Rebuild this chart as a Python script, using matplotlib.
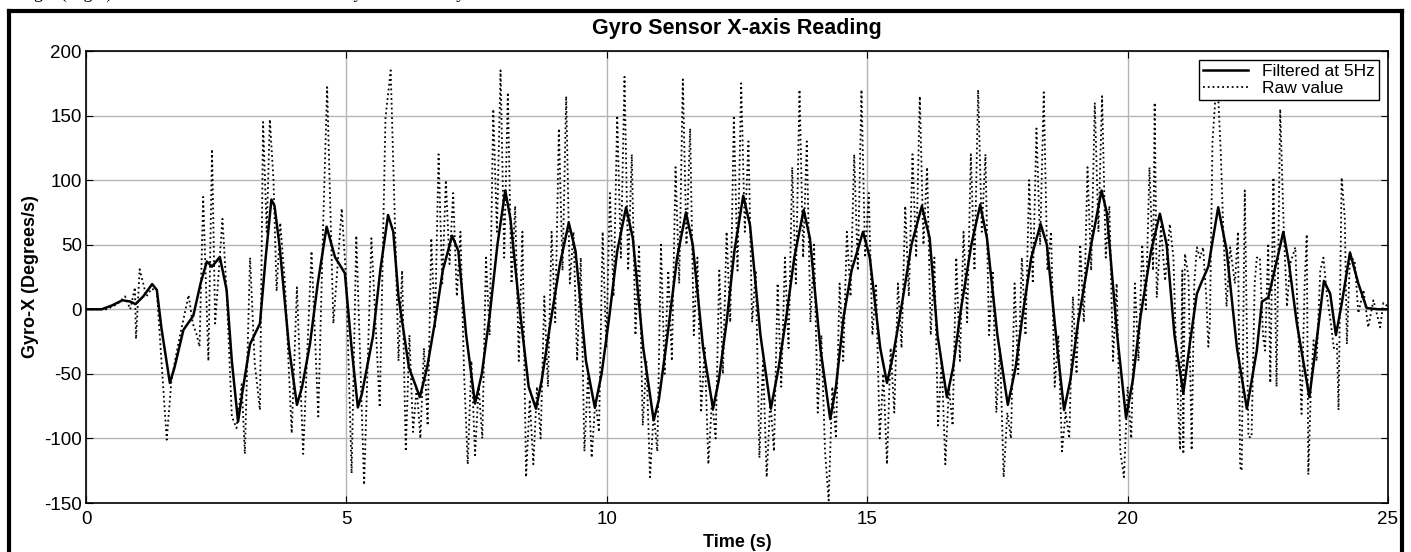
import matplotlib
matplotlib.use("Agg")
import matplotlib.pyplot as plt
from matplotlib.lines import Line2D
import numpy as np

plt.rcParams["axes.unicode_minus"] = False

# filtered curve (t, deg/s)
filt_t = [0.0, 0.3, 0.5, 0.7, 0.85, 0.95, 1.1, 1.27, 1.36, 1.45, 1.61, 1.7, 1.87, 2.06, 2.2, 2.32, 2.42, 2.57,
          2.70, 2.8, 2.92, 3.0, 3.15, 3.34, 3.45, 3.56, 3.62, 3.72, 3.9, 4.05, 4.15, 4.3, 4.45, 4.62, 4.78,
          4.97, 5.1, 5.22, 5.3, 5.51, 5.65, 5.8, 5.9, 6.0, 6.2, 6.41, 6.55, 6.7, 6.85, 7.03, 7.15, 7.3, 7.47,
          7.6, 7.75, 7.9, 8.05, 8.15, 8.3, 8.5, 8.64, 8.75, 8.9, 9.1, 9.27, 9.4, 9.6, 9.77, 9.9, 10.05, 10.2,
          10.37, 10.5, 10.7, 10.9, 11.0, 11.15, 11.35, 11.52, 11.65, 11.85, 12.04, 12.15, 12.3, 12.45, 12.62,
          12.75, 12.95, 13.15, 13.3, 13.45, 13.6, 13.78, 13.9, 14.1, 14.29, 14.4, 14.55, 14.7, 14.92, 15.05,
          15.25, 15.38, 15.5, 15.65, 15.85, 16.05, 16.2, 16.35, 16.53, 16.65, 16.8, 17.0, 17.17, 17.3, 17.5,
          17.7, 17.85, 18.0, 18.15, 18.33, 18.45, 18.65, 18.78, 18.9, 19.05, 19.3, 19.5, 19.6, 19.8, 19.97,
          20.1, 20.25, 20.45, 20.62, 20.75, 20.9, 21.07, 21.2, 21.33, 21.43, 21.55, 21.74, 21.9, 22.1, 22.29,
          22.48, 22.58, 22.7, 22.85, 22.99, 23.1, 23.25, 23.49, 23.63, 23.77, 23.89, 24.0, 24.11, 24.27,
          24.43, 24.59, 24.8, 25.0]
filt_v = [0, 0, 3, 7, 6, 4, 10, 19.5, 15, -15, -57, -45, -16, -5, 20, 37, 33, 40.5,
          15, -40, -87, -65, -27, -11, 40, 85, 80, 48, -30, -74, -60, -27, 20, 64, 40.5,
          28, -30, -76, -65, -21, 30, 73, 60, 10, -45, -68, -45, -10, 30, 57, 45, -20, -73,
          -50, -5, 50, 92, 70, 10, -60, -77, -55, -15, 35, 67, 45, -40, -76, -50, -5, 45,
          79, 55, -30, -86, -70, -25, 40, 75, 50, -30, -77, -55, -10, 45, 88,
          65, -20, -77, -45, -5, 40, 77, 55, -30, -85, -60, -5, 30, 60, 40,
          -30, -57, -35, 0, 50, 80, 55, -20, -68, -45, 0, 50, 81, 55, -20,
          -74, -45, 0, 40, 66, 50, -30, -78, -55, -10, 50, 92, 75, -20, -84,
          -55, -5, 45, 74, 50, -20, -65, -25, 12, 22, 33, 79, 46, -30, -77,
          -32, 6, 9, 35, 60, 35, -11, -68, -24, 22, 12, -20, 4, 44,
          20, 1, 0, 0]

# raw samples, start of the run (0 - 6 s)
raw_t_a = [0.0, 0.4, 0.6, 0.75, 0.85, 0.94, 0.96, 1.03, 1.16, 1.26, 1.36, 1.55, 1.64, 1.77, 1.97, 2.05, 2.12,
           2.18, 2.25, 2.35, 2.42, 2.48, 2.62, 2.7, 2.8, 2.89, 2.99, 3.05, 3.15, 3.24, 3.34, 3.4, 3.47, 3.53,
           3.6, 3.66, 3.73, 3.82, 3.95, 4.05, 4.17, 4.25, 4.33, 4.46, 4.55, 4.63, 4.75, 4.91, 5.0, 5.1, 5.19,
           5.34, 5.48, 5.64, 5.75, 5.85, 5.95]
raw_v_a = [0, 0, 4, 10, 0, 17, -23, 31, 10, 16, 14, -101, -55, -27, 11, -11, -19,
           -29, 87, -40, 124, -11, 70, 14, -83, -92, -58, -112, 40, -42, -78, 145, 60, 147,
           100, 14, 67, 20, -96, 17, -112, -32, 45, -83, 60, 172, -11, 78, 20, -127, 57,
           -136, 55, -76, 148, 185, 40]

# raw samples, middle of the run, one every 0.07 s from 6.00 s
raw_t0_b = 6.0
raw_dt_b = 0.07
raw_v_b = [-40, 30, -110, -20, -95, -60, -100, -30, -90, 55, -15, 120, 20, 100, 35, 90, 10, 60, -50, -120,
           -40, -113, -60, -100, 40, -20, 155, 60, 185, 40, 168, 20, 80, -40, 60, -130, -70, -120, -60, -100,
           10, -60, 60, -10, 140, 30, 165, 20, 60, -40, 40, -110, -50, -115, -70, -95, 60, -30, 90, 10,
           150, 40, 180, 30, 120, -20, 50, -90, -40, -130, -80, -110, 50, -50, 30, -40, 110, 20, 178, 50,
           140, -20, 40, -80, -30, -120, -70, -100, 30, -50, 60, -10, 150, 30, 175, 60, 130, -10, 30, -115,
           -40, -130, -70, -110, 20, -60, 40, -30, 110, 20, 170, 40, 130, -10, 50, -80, -20, -110, -148, -60,
           -100, 20, -40, 60, 10, 120, 30, 170, 40, 90, -20, 20, -100, -50, -120, -30, -80, 20, -30, 80,
           10, 120, 40, 165, 50, 110, -20, 40, -90, -40, -120, -60, -90, 40, -40, 60, -10, 120, 30, 170,
           60, 120, -20, 30, -80, -30, -130, -80, -100, 20, -50, 40, -20, 100, 20, 140, 50, 168, 30, 60,
           -60, -20, -110, -80, -100, 10, -50, 50, -10, 110, 30, 160, 60, 165, 40, 80, -40, 20, -110, -130,
           -60, -100, 20, -40, 50, 0, 110, 30]

# raw samples, end of the run (20.5 - 25 s)
raw_t_c = [20.52, 20.56, 20.64, 20.72, 20.81, 20.88, 20.95, 21.01, 21.05, 21.07, 21.10, 21.17, 21.23, 21.28,
           21.33, 21.39, 21.45, 21.51, 21.55, 21.58, 21.63, 21.68, 21.74, 21.79, 21.84, 21.90, 21.97, 22.06,
           22.12, 22.16, 22.19, 22.25, 22.32, 22.38, 22.44, 22.48, 22.54, 22.60, 22.64, 22.70, 22.74, 22.80,
           22.86, 22.93, 23.0, 23.06, 23.12, 23.22, 23.28, 23.34, 23.40, 23.44, 23.47, 23.52, 23.57, 23.63,
           23.70, 23.76, 23.83, 23.90, 23.96, 24.02, 24.05, 24.11, 24.17, 24.21, 24.27, 24.36, 24.43, 24.53,
           24.62, 24.72, 24.85, 24.91, 25.0]
raw_v_c = [160, 9, 64, 22, 66, 40, -60, -109, 30, -112, 43, 25, -109, 20,
           48, 40, 48, 10, -29, -11, 130, 160, 165, 120, 58, 2, 48, 20,
           60, -122, -125, 92, -99, -99, 20, 40, 40, -20, -32, 51, -57, 102,
           -60, 155, 60, 2, 35, 48, -20, -81, 20, 58, -128, -60, -24, -40,
           30, 40, 10, -10, -30, -27, -78, 102, 71, -27, 40, 38, -3, 15,
           -14, 7, -14, 5, 2]

raw_t_b = list(np.round(raw_t0_b + raw_dt_b * np.arange(len(raw_v_b)), 2))
raw_t = raw_t_a + raw_t_b + raw_t_c
raw_v = raw_v_a + raw_v_b + raw_v_c

fig = plt.figure(figsize=(14.11, 5.52), dpi=100)
ax = fig.add_axes([86 / 1411, 1 - 503 / 552, (1388 - 86) / 1411, (503 - 51) / 552])

ax.plot(filt_t, filt_v, color="black", lw=1.8, label="Filtered at 5Hz", zorder=3)
ax.plot(raw_t, raw_v, color="black", lw=1.3, ls=":", label="Raw value", zorder=2)

ax.set_xlim(0, 25)
ax.set_ylim(-150, 200)
ax.set_xticks([0, 5, 10, 15, 20, 25])
ax.set_yticks([-150, -100, -50, 0, 50, 100, 150, 200])
ax.grid(True, color="#b4b4b4", lw=1)
ax.set_axisbelow(True)
ax.tick_params(direction="in", top=True, right=True, length=5, labelsize=13.5, pad=3)
ax.tick_params(axis="x", pad=6)
for lab in ax.get_xticklabels() + ax.get_yticklabels():
    lab.set_family("Liberation Sans")
for s in ax.spines.values():
    s.set_linewidth(1.2)

ax.set_title("Gyro Sensor X-axis Reading", fontsize=15.5, fontweight="bold", family="Liberation Sans", pad=12)
ax.set_xlabel("Time (s)", fontsize=13, fontweight="bold", family="Liberation Sans", labelpad=4)
ax.set_ylabel("Gyro-X (Degrees/s)", fontsize=13, fontweight="bold", family="Liberation Sans", labelpad=4)

leg = ax.legend(loc="upper right", prop={"family": "Liberation Sans", "size": 12.5},
                frameon=True, fancybox=False, edgecolor="black", framealpha=1, borderpad=0.25,
                labelspacing=0.1, handlelength=2.6, borderaxespad=0.5)
leg.get_frame().set_linewidth(1)

# page frame around the figure
fig.add_artist(Line2D([9 / 1411, 9 / 1411], [0, 1 - 11 / 552], color="black", lw=3, transform=fig.transFigure))
fig.add_artist(Line2D([1402 / 1411, 1402 / 1411], [0, 1 - 11 / 552], color="black", lw=3, transform=fig.transFigure))
fig.add_artist(Line2D([9 / 1411, 1402 / 1411], [1 - 11 / 552, 1 - 11 / 552], color="black", lw=3, transform=fig.transFigure))

# caption line of the page above, cut off by the crop
fig.text(12 / 1411, 1 + 2 / 552, "Angle (Right) and the Knee Motion Obtained by the Sensor by",
         family="Liberation Serif", fontsize=13, va="baseline", ha="left")

fig.savefig("out.png", dpi=100)
